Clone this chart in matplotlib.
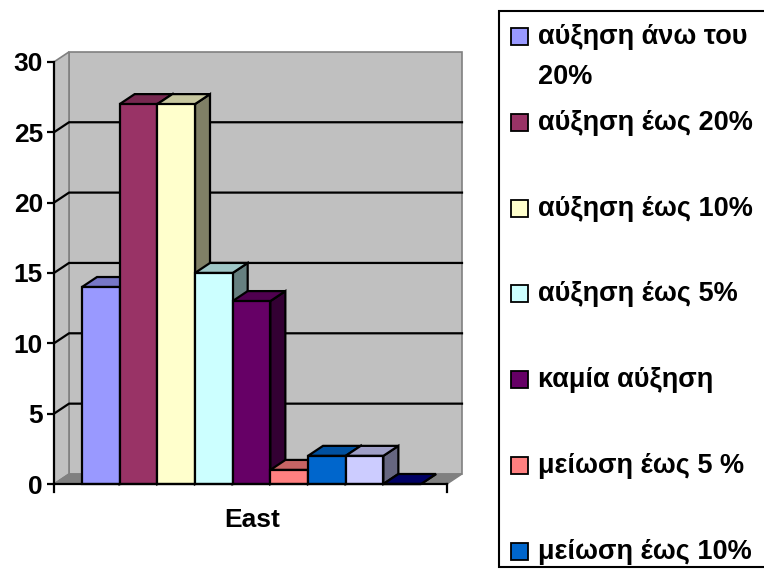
import numpy as np
import matplotlib.pyplot as plt
from matplotlib.patches import Polygon, Rectangle
from matplotlib.colors import to_rgb

plt.rcParams['font.family'] = ['Liberation Sans', 'DejaVu Sans']
plt.rcParams['font.weight'] = 'bold'

# data
category = 'East'
series = ['αύξηση άνω του\n20%', 'αύξηση έως 20%', 'αύξηση έως 10%', 'αύξηση έως 5%',
          'καμία αύξηση', 'μείωση έως 5 %', 'μείωση έως 10%']
values = [14, 27, 27, 15, 13, 1, 2, 2, 0]
colors = ['#9999FF', '#993366', '#FFFFCC', '#CCFFFF', '#660066',
          '#FF8080', '#0066CC', '#CCCCFF', '#000080']
yticks = [0, 5, 10, 15, 20, 25, 30]


def shade(c, f):
    return tuple(np.array(to_rgb(c)) * f)


W_PX, H_PX = 764, 570
fig = plt.figure(figsize=(W_PX / 100, H_PX / 100), dpi=100)

# plot area (pixel layout of the old excel 3d chart)
bar_px = 37.67     # one bar slot in pixels
val_px = 14.07     # one unit of value in pixels
ax = fig.add_axes([54 / W_PX, (H_PX - 484) / H_PX, 408 / W_PX, 432 / H_PX])
xmax = 408 / bar_px
ax.set_xlim(0, xmax)
ax.set_ylim(0, 432 / val_px)
dx, dy = 15 / bar_px, 10 / val_px
floor_w = xmax - dx
ymax = yticks[-1]
first = 28 / bar_px

# walls and floor
ax.add_patch(Polygon([(dx, dy), (xmax, dy), (xmax, ymax + dy), (dx, ymax + dy)],
                     closed=True, fc='#C0C0C0', ec='#808080', lw=1.2, zorder=1, clip_on=False))
ax.add_patch(Polygon([(0, 0), (dx, dy), (dx, ymax + dy), (0, ymax)],
                     closed=True, fc='#C0C0C0', ec='#808080', lw=1.2, zorder=1, clip_on=False))
for v in yticks[1:-1]:
    ax.plot([0, dx, xmax], [v, v + dy, v + dy], color='k', lw=1.6, zorder=1.5, clip_on=False)
ax.add_patch(Polygon([(0, 0), (floor_w, 0), (xmax, dy), (dx, dy)],
                     closed=True, fc='#808080', ec='#808080', lw=1, zorder=1.6, clip_on=False))

# 3d bars
for i, (v, c) in enumerate(zip(values, colors)):
    x0 = first + i
    kw = dict(closed=True, ec='k', lw=1.6, joinstyle='miter', zorder=3, clip_on=False)
    ax.add_patch(Polygon([(x0 + 1, 0), (x0 + 1 + dx, dy), (x0 + 1 + dx, v + dy), (x0 + 1, v)],
                         fc=shade(c, 0.5), **kw))
    ax.add_patch(Polygon([(x0, v), (x0 + 1, v), (x0 + 1 + dx, v + dy), (x0 + dx, v + dy)],
                         fc=shade(c, 0.78), **kw))
    ax.add_patch(Rectangle((x0, 0), 1, v, fc=c, ec='k', lw=1.6, joinstyle='miter',
                           zorder=3, clip_on=False))

# axes
for s in ['top', 'right', 'bottom']:
    ax.spines[s].set_visible(False)
ax.spines['left'].set_bounds(0, ymax)
ax.spines['left'].set_linewidth(1.6)
ax.spines['left'].set_zorder(4)
ax.set_yticks(yticks)
ax.set_yticklabels([str(t) for t in yticks], fontsize=19, fontweight='bold')
ax.tick_params(axis='y', length=5, width=1.6, pad=3)
ax.set_xticks([])
tick_down = 8 / val_px
ax.plot([0, floor_w], [0, 0], color='k', lw=1.6, zorder=4, clip_on=False)
ax.plot([0, 0], [0, -tick_down], color='k', lw=1.6, zorder=4, clip_on=False)
ax.plot([floor_w, floor_w], [0, -tick_down], color='k', lw=1.6, zorder=4, clip_on=False)
ax.text(floor_w / 2 + 1.5 / bar_px, -36 / val_px, category, ha='center', va='center',
        fontsize=19, fontweight='bold')
ax.patch.set_visible(False)

# legend (drawn by hand, cut off at the right edge like the original)
lg = fig.add_axes([0, 0, 1, 1], zorder=5)
lg.set_xlim(0, W_PX)
lg.set_ylim(H_PX, 0)
lg.axis('off')
lg.add_patch(Rectangle((499, 11), 280, 556, fc='white', ec='k', lw=1.5, clip_on=False))
y0, step = 37, 85.8
for i, lab in enumerate(series):
    yc = y0 + i * step
    lg.add_patch(Rectangle((511, yc - 9), 17, 17, fc=colors[i], ec='k', lw=1.3))
    lines = lab.split('\n')
    for j, ln in enumerate(lines):
        lg.text(538, yc + j * 40, ln, ha='left', va='center', fontsize=19.5, fontweight='bold')

fig.savefig('out.png', dpi=100)
